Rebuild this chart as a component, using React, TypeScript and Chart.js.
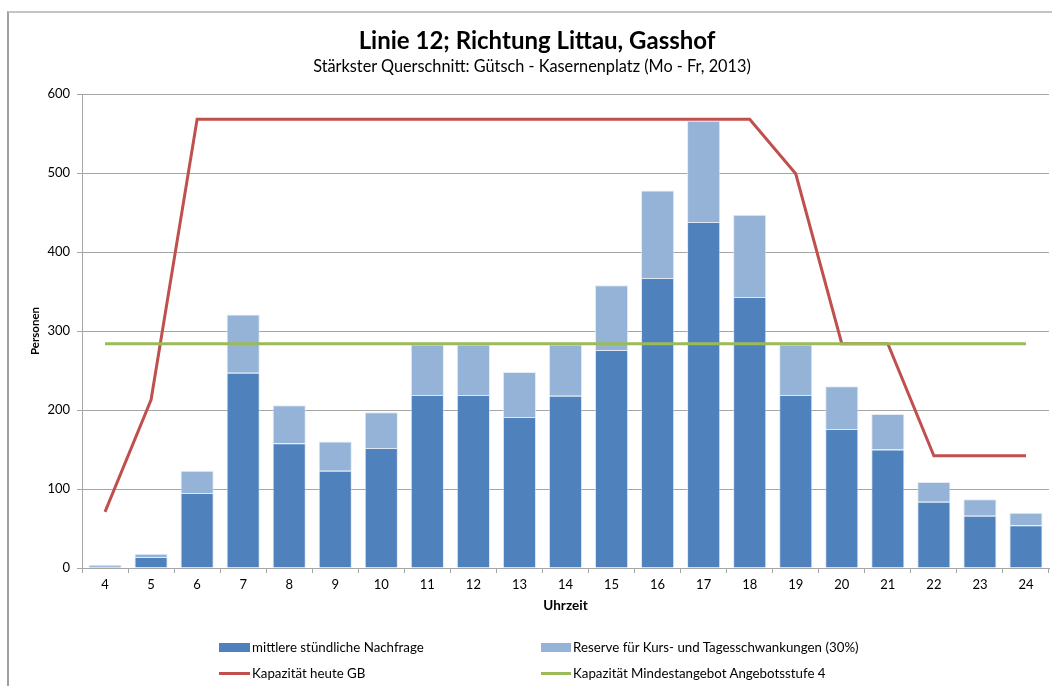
import React, { useEffect, useRef } from "react";
import { Chart, registerables } from "chart.js";

Chart.register(...registerables);

const hours = ["4","5","6","7","8","9","10","11","12","13","14","15","16","17","18","19","20","21","22","23","24"];
const demand = [3, 14, 95, 247, 158, 123, 152, 219, 219, 191, 218, 276, 367, 438, 343, 219, 176, 150, 84, 66, 54];
const reserve = [1, 4, 28, 74, 48, 37, 45, 64, 64, 57, 65, 82, 111, 128, 104, 64, 54, 45, 25, 21, 16];
const capacityToday = [71, 213, 568, 568, 568, 568, 568, 568, 568, 568, 568, 568, 568, 568, 568, 499, 284, 284, 142, 142, 142];
const capacityMin = [284, 284, 284, 284, 284, 284, 284, 284, 284, 284, 284, 284, 284, 284, 284, 284, 284, 284, 284, 284, 284];

const TITLE = "Linie 12; Richtung Littau, Gasshof";
const SUBTITLE = "Stärkster Querschnitt: Gütsch - Kasernenplatz (Mo - Fr, 2013)";
const LBL_DEMAND = "mittlere stündliche Nachfrage";
const LBL_RESERVE = "Reserve für Kurs- und Tagesschwankungen (30%)";
const LBL_CAP = "Kapazität heute GB";
const LBL_MIN = "Kapazität Mindestangebot Angebotsstufe 4";

const C_DEMAND = "#4f81bd";
const C_RESERVE = "#95b3d7";
const C_CAP = "#c0504d";
const C_MIN = "#9bbb59";
const FONT = "Lato, 'Open Sans', sans-serif";

export default function App() {
  const ref = useRef<HTMLCanvasElement | null>(null);

  useEffect(() => {
    if (!ref.current) return;
    const chart = new Chart(ref.current, {
      type: "bar",
      data: {
        labels: hours,
        datasets: [
          {
            type: "line",
            label: LBL_MIN,
            data: capacityMin,
            borderColor: C_MIN,
            backgroundColor: C_MIN,
            borderWidth: 3,
            pointRadius: 0,
            tension: 0,
            stack: "min",
            order: 0,
          },
          {
            type: "line",
            label: LBL_CAP,
            data: capacityToday,
            borderColor: C_CAP,
            backgroundColor: C_CAP,
            borderWidth: 3,
            pointRadius: 0,
            tension: 0,
            stack: "cap",
            order: 1,
          },
          {
            type: "bar",
            label: LBL_DEMAND,
            data: demand,
            backgroundColor: C_DEMAND,
            borderColor: "rgba(200,215,235,0.6)",
            borderWidth: 1,
            stack: "bars",
            order: 2,
            categoryPercentage: 1,
            barPercentage: 0.72,
          },
          {
            type: "bar",
            label: LBL_RESERVE,
            data: reserve,
            backgroundColor: C_RESERVE,
            borderColor: "rgba(220,230,242,0.8)",
            borderWidth: 1,
            stack: "bars",
            order: 2,
            categoryPercentage: 1,
            barPercentage: 0.72,
          },
        ],
      },
      options: {
        responsive: false,
        animation: false,
        layout: { padding: { left: 24, top: 94, right: 3, bottom: 68 } },
        plugins: {
          legend: { display: false },
          title: { display: false },
          tooltip: { enabled: false },
        },
        scales: {
          x: {
            stacked: true,
            offset: true,
            grid: {
              offset: true,
              drawOnChartArea: false,
              drawTicks: true,
              tickLength: 5,
              color: "#a6a6a6",
            },
            border: { color: "#a6a6a6", width: 1 },
            ticks: {
              color: "#000",
              font: { family: FONT, size: 13 },
              padding: 4,
              maxRotation: 0,
            },
            title: {
              display: true,
              text: "Uhrzeit",
              color: "#000",
              font: { family: FONT, size: 13.5, weight: "bold" },
              padding: { top: 4, bottom: 4 },
            },
            afterFit: (s: any) => {
              s.height = 50;
            },
          },
          y: {
            stacked: true,
            min: 0,
            max: 600,
            grid: {
              drawOnChartArea: true,
              drawTicks: true,
              tickLength: 5,
              color: "#a6a6a6",
            },
            border: { color: "#a6a6a6", width: 1 },
            ticks: {
              stepSize: 100,
              color: "#000",
              font: { family: FONT, size: 13 },
              padding: 7,
            },
            title: {
              display: true,
              text: "Personen",
              color: "#000",
              font: { family: FONT, size: 11.5, weight: "bold" },
              padding: { top: 4, bottom: 4 },
            },
            afterFit: (s: any) => {
              s.width = 58;
            },
          },
        },
      },
    });
    return () => chart.destroy();
  }, []);

  const legendText: React.CSSProperties = {
    position: "absolute",
    fontFamily: FONT,
    fontSize: 13.3,
    lineHeight: "16px",
    color: "#000",
    whiteSpace: "nowrap",
  };

  return (
    <div
      style={{
        position: "fixed",
        left: 0,
        top: 0,
        width: 1052,
        height: 686,
        background: "#fff",
        overflow: "hidden",
      }}
    >
      <div
        style={{
          position: "absolute",
          left: 7,
          top: 11,
          width: 1100,
          height: 720,
          borderLeft: "2px solid #a0a0a0",
          borderTop: "2px solid #c4c4c4",
          boxSizing: "border-box",
        }}
      />
      <canvas ref={ref} width={1052} height={686} style={{ position: "absolute", left: 0, top: 0 }} />
      <div
        style={{
          position: "absolute",
          left: 537,
          top: 26,
          transform: "translateX(-50%)",
          fontFamily: FONT,
          fontWeight: "bold",
          fontSize: 24,
          lineHeight: "28px",
          whiteSpace: "nowrap",
          color: "#000",
        }}
      >
        {TITLE}
      </div>
      <div
        style={{
          position: "absolute",
          left: 532,
          top: 56,
          transform: "translateX(-50%)",
          fontFamily: FONT,
          fontSize: 16.3,
          lineHeight: "20px",
          whiteSpace: "nowrap",
          color: "#000",
        }}
      >
        {SUBTITLE}
      </div>
      {/* legend */}
      <div style={{ position: "absolute", left: 219, top: 643, width: 31, height: 9, background: C_DEMAND }} />
      <div style={{ ...legendText, left: 252, top: 639 }}>{LBL_DEMAND}</div>
      <div style={{ position: "absolute", left: 541, top: 643, width: 30, height: 9, background: C_RESERVE }} />
      <div style={{ ...legendText, left: 573, top: 639 }}>{LBL_RESERVE}</div>
      <div style={{ position: "absolute", left: 219, top: 672, width: 31, height: 3, background: C_CAP }} />
      <div style={{ ...legendText, left: 252, top: 665 }}>{LBL_CAP}</div>
      <div style={{ position: "absolute", left: 541, top: 672, width: 30, height: 3, background: C_MIN }} />
      <div style={{ ...legendText, left: 573, top: 665 }}>{LBL_MIN}</div>
    </div>
  );
}
